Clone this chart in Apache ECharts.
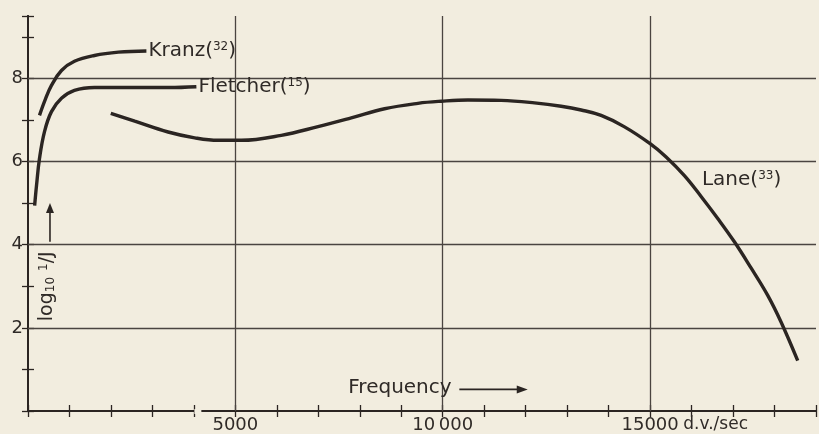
<!DOCTYPE html>
<html>
<head>
<meta charset="utf-8">
<script src="https://cdn.jsdelivr.net/npm/echarts@6/dist/echarts.min.js"></script>
<style>
  html, body { margin: 0; padding: 0; background: #f2eddf; }
  #main { width: 819px; height: 434px; }
</style>
</head>
<body>
<div id="main"></div>
<script>
// curves: [frequency d.v./sec, log10 1/J]
const kranz = [
  [277, 7.11], [420, 7.5], [566, 7.83], [807, 8.19], [1120, 8.41],
  [1602, 8.55], [2180, 8.63], [2855, 8.66]
];
const fletcher = [
  [160, 4.94], [205, 5.42], [277, 6.07], [398, 6.72], [566, 7.2],
  [807, 7.52], [1120, 7.71], [1602, 7.78], [2566, 7.78], [3400, 7.78], [4060, 7.8]
];
const lane = [
  [1996, 7.16], [2574, 6.97], [3378, 6.71], [4020, 6.57], [4583, 6.51],
  [5145, 6.51], [6108, 6.63], [6993, 6.84], [7795, 7.05], [8598, 7.27],
  [9402, 7.40], [9964, 7.45], [10607, 7.48], [11410, 7.47], [12212, 7.41],
  [12855, 7.33], [13337, 7.24], [13819, 7.11], [14373, 6.84], [15000, 6.43],
  [15386, 6.11], [15827, 5.66], [16229, 5.16], [16631, 4.63], [17032, 4.07],
  [17434, 3.44], [17836, 2.78], [18157, 2.14], [18559, 1.21]
];
const xGrid = [5000, 10000, 15000];
const yGrid = [2, 4, 6, 8];
const xLabels = { 5000: "5000", 10000: "10\u2009000", 15000: "15000" };

const ink = "#2b2522";
const textInk = "#2f2a27";
const bg = "#f2eddf";
const font = "DejaVu Sans";

const myChart = echarts.init(document.getElementById("main"));

const tick = { show: true, inside: true, length: 6, lineStyle: { color: ink, width: 1.3 } };
const axLine = { show: true, lineStyle: { color: ink, width: 2 } };

const line = (name, data) => ({
  name, type: "line", data, smooth: 0.4, symbol: "none",
  lineStyle: { color: ink, width: 3.4 }, z: 5
});
const sup = { fontSize: 12, verticalAlign: "top", fontFamily: font, color: textInk, padding: [0, 0, 8, 0] };
const curveLabel = { color: textInk, fontFamily: font, fontSize: 20, rich: { sup } };

const option = {
  backgroundColor: bg,
  animation: false,
  grid: { left: 28, right: 2, top: 16, bottom: 22 },
  xAxis: [
    {
      type: "value", min: 0, max: 19000, interval: 1000, position: "bottom",
      axisLine: axLine, axisTick: tick, splitLine: { show: false },
      axisLabel: {
        show: true, margin: 5, color: textInk, fontFamily: font, fontSize: 18,
        formatter: (v) => xLabels[v] || ""
      }
    },
    {
      type: "value", min: 0, max: 19000, interval: 1000, position: "top",
      axisLine: axLine, axisTick: tick, splitLine: { show: false }, axisLabel: { show: false }
    }
  ],
  yAxis: [
    {
      type: "value", min: 0, max: 9.5, interval: 1, position: "left",
      axisLine: axLine, axisTick: tick, splitLine: { show: false },
      axisLabel: {
        show: true, margin: 5, color: textInk, fontFamily: font, fontSize: 18,
        formatter: (v) => (yGrid.indexOf(v) >= 0 ? String(v) : "")
      }
    },
    {
      type: "value", min: 0, max: 9.5, interval: 1, position: "right",
      axisLine: axLine, axisTick: tick, splitLine: { show: false }, axisLabel: { show: false }
    }
  ],
  series: [
    Object.assign(line("Kranz", kranz), {
      endLabel: Object.assign({ show: true, distance: 2, formatter: "Kranz({sup|32})" }, curveLabel)
    }),
    Object.assign(line("Fletcher", fletcher), {
      endLabel: Object.assign({ show: true, distance: 2, formatter: "Fletcher({sup|15})" }, curveLabel)
    }),
    Object.assign(line("Lane", lane), {
      markPoint: {
        symbol: "circle", symbolSize: 0,
        data: [{ coord: [16250, 5.55] }],
        label: Object.assign({ show: true, position: "right", distance: 0, formatter: "Lane({sup|33})" }, curveLabel)
      }
    }),
    {
      name: "grid", type: "line", data: [], z: 1,
      markLine: {
        silent: true, symbol: "none", label: { show: false },
        lineStyle: { color: "#4a4440", width: 1.3, type: "solid" },
        data: xGrid.map((v) => ({ xAxis: v })).concat(yGrid.map((v) => ({ yAxis: v })))
      }
    }
  ]
};

myChart.setOption(option);

// annotations placed through the chart's own scales
const px = (x, y) => myChart.convertToPixel({ xAxisIndex: 0, yAxisIndex: 0 }, [x, y]);
const ylab = px(470, 3.0);
const arrBot = px(530, 4.07);
const arrTop = px(530, 5.0);
const freq = px(7723, 0.55);
const fa0 = px(10400, 0.52);
const fa1 = px(12050, 0.52);
const dv = px(15800, 0);
const gap0 = px(4012, 0);
const gap1 = px(4180, 0);

myChart.setOption({
  graphic: [
    {
      type: "text", x: ylab[0], y: ylab[1], rotation: Math.PI / 2, z: 10,
      style: {
        text: "log{s|10} {f|1}/J", font: "19px " + font, fill: textInk,
        align: "center", verticalAlign: "middle",
        rich: {
          s: { fontSize: 12, fontFamily: font, fill: textInk, verticalAlign: "bottom" },
          f: { fontSize: 12, fontFamily: font, fill: textInk, verticalAlign: "top" }
        }
      }
    },
    {
      type: "line", z: 10,
      shape: { x1: arrBot[0], y1: arrBot[1], x2: arrTop[0], y2: arrTop[1] + 6 },
      style: { stroke: ink, lineWidth: 1.6 }
    },
    {
      type: "polygon", z: 10,
      shape: { points: [[arrTop[0], arrTop[1]], [arrTop[0] - 4, arrTop[1] + 10], [arrTop[0] + 4, arrTop[1] + 10]] },
      style: { fill: ink }
    },
    {
      type: "text", x: freq[0], y: freq[1], z: 10,
      style: { text: "Frequency", font: "20px " + font, fill: textInk, align: "left", verticalAlign: "middle" }
    },
    {
      type: "line", z: 10,
      shape: { x1: fa0[0], y1: fa0[1], x2: fa1[0] - 6, y2: fa1[1] },
      style: { stroke: ink, lineWidth: 1.6 }
    },
    {
      type: "polygon", z: 10,
      shape: { points: [[fa1[0], fa1[1]], [fa1[0] - 11, fa1[1] - 4], [fa1[0] - 11, fa1[1] + 4]] },
      style: { fill: ink }
    },
    {
      type: "text", x: dv[0], y: dv[1] + 5, z: 10,
      style: { text: "d.v./sec", font: "17px " + font, fill: textInk, align: "left", verticalAlign: "top" }
    },
    {
      type: "rect", z: 10,
      shape: { x: gap0[0], y: gap0[1] - 2, width: gap1[0] - gap0[0], height: 5 },
      style: { fill: bg }
    }
  ]
});
</script>
</body>
</html>
